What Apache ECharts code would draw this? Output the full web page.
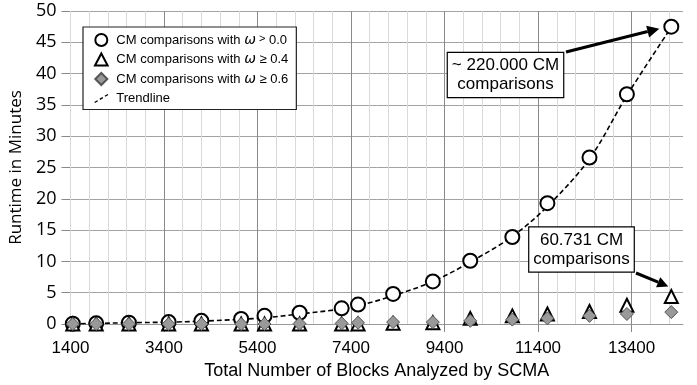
<!DOCTYPE html>
<html>
<head>
<meta charset="utf-8">
<script src="https://cdn.jsdelivr.net/npm/echarts@6/dist/echarts.min.js"></script>
<style>
html,body{margin:0;padding:0;background:#fff;}
#chart{width:697px;height:385px;}
</style>
</head>
<body>
<div id="chart"></div>
<script>
// ---- data ----
const blocks = [1450, 1950, 2650, 3500, 4200, 5050, 5550, 6300, 7200, 7550, 8300, 9150, 9950, 10850, 11600, 12500, 13300, 14250];
const runtimeW00 = [0.05, 0.1, 0.2, 0.3, 0.5, 0.8, 1.3, 1.8, 2.5, 3.1, 4.8, 6.8, 10.1, 13.9, 19.3, 26.6, 36.7, 47.5];
const runtimeW04 = [0, 0, 0, 0, 0, 0, 0, 0, 0, 0, 0.1, 0.2, 0.9, 1.3, 1.6, 2.0, 3.0, 4.4];
const runtimeW06 = [0, 0, 0, 0, 0, 0, 0, 0.05, 0.1, 0.2, 0.3, 0.3, 0.5, 0.7, 0.9, 1.3, 1.6, 1.9];
const trendline  = [0.0, 0.1, 0.2, 0.3, 0.45, 0.75, 1.0, 1.6, 2.4, 2.9, 4.5, 6.8, 9.9, 14.0, 18.8, 26.4, 36.5, 47.4];
const seriesNames = ['CM comparisons with ω > 0.0', 'CM comparisons with ω ≥ 0.4', 'CM comparisons with ω ≥ 0.6', 'Trendline'];
const note1 = '~ 220.000 CM\ncomparisons';
const note2 = '60.731 CM\ncomparisons';

const pairs = ys => blocks.map((x, i) => [x, ys[i]]);

const chart = echarts.init(document.getElementById('chart'), null, {renderer: 'canvas'});
const dashIcon = 'path://M0,12L3.2,10L4,11.2L0.8,13.2Z M5.6,8.6L8.8,6.6L9.6,7.8L6.4,9.8Z M11.2,5.2L14.4,3.2L15.2,4.4L12,6.4Z';
const option = {
  animation: false,
  backgroundColor: '#fff',
  grid: {left: 70, right: 14, top: 11, bottom: 60, containLabel: false},
  legend: {
    orient: 'vertical', left: 83, top: 27,
    padding: [6, 8, 4, 11], itemGap: 5.5, itemWidth: 14, itemHeight: 12,
    backgroundColor: '#fff', borderColor: '#222', borderWidth: 1.2, borderRadius: 0,
    data: [
      {name: seriesNames[0], icon: 'circle'},
      {name: seriesNames[1], icon: 'path://M0,-10L10,9L-10,9Z'},
      {name: seriesNames[2], icon: 'path://M0,-10L10,0L0,10L-10,0Z'},
      {name: seriesNames[3], icon: dashIcon}
    ],
    formatter: n => n.replace('ω > ', '{w|ω}{g| >} ').replace('ω ≥ ', '{w|ω} ≥ '),
    textStyle: {
      fontFamily: 'Liberation Sans', fontSize: 13, color: '#000', lineHeight: 14, padding: [0, 0, 0, 3],
      rich: {
        w: {fontFamily: 'DejaVu Sans', fontStyle: 'italic', fontSize: 14, lineHeight: 14, color: '#000'},
        g: {fontFamily: 'Liberation Sans', fontSize: 11, lineHeight: 14, color: '#000', verticalAlign: 'top'}
      }
    }
  },
  xAxis: [{
    type: 'value', min: 1400, max: 14500, interval: 2000, z: 2,
    name: 'Total Number of Blocks Analyzed by SCMA', nameLocation: 'middle', nameGap: 38,
    nameTextStyle: {fontFamily: 'Liberation Sans', fontSize: 18, color: '#000'},
    axisLabel: {fontFamily: 'Liberation Sans', fontSize: 17, color: '#000', margin: 16, showMaxLabel: false,
      formatter: v => String(v)},
    axisTick: {show: true, length: 8, lineStyle: {color: '#888'}},
    axisLine: {show: true, lineStyle: {color: '#999'}},
    splitLine: {show: true, showMinLine: false, showMaxLine: false, lineStyle: {color: '#8a8a8a', width: 1}}
  }, {
    type: 'value', min: 1400, max: 14500, interval: 400, position: 'bottom', z: 1,
    axisLabel: {show: false}, axisTick: {show: false}, axisLine: {show: false},
    splitLine: {show: true, showMaxLine: false, lineStyle: {color: '#d9d9d9', width: 1}}
  }],
  yAxis: {
    type: 'value', min: 0, max: 50, interval: 5,
    name: 'Runtime in Minutes', nameLocation: 'middle', nameGap: 29,
    nameTextStyle: {fontFamily: 'Open Sans', fontSize: 17, color: '#000'},
    axisLabel: {fontFamily: 'Open Sans', fontSize: 18, color: '#000', margin: 14},
    axisTick: {show: true, length: 9, lineStyle: {color: '#888'}},
    axisLine: {show: false},
    splitLine: {show: true, lineStyle: {color: '#a3a3a3', width: 1}}
  },
  series: [{
    name: seriesNames[3], type: 'line', data: pairs(trendline), smooth: 0.35,
    symbol: 'none', showSymbol: false, z: 2,
    lineStyle: {color: '#000', width: 1.6, type: [5, 3]}, itemStyle: {color: '#000'}
  }, {
    name: seriesNames[0], type: 'scatter', data: pairs(runtimeW00), symbol: 'circle', symbolSize: 14, z: 3,
    itemStyle: {color: '#fff', borderColor: '#000', borderWidth: 2, opacity: 1}
  }, {
    name: seriesNames[1], type: 'scatter', data: pairs(runtimeW04), symbol: 'triangle', symbolSize: 13, z: 4,
    itemStyle: {color: '#fff', borderColor: '#000', borderWidth: 2, opacity: 1}
  }, {
    name: seriesNames[2], type: 'scatter', data: pairs(runtimeW06), symbol: 'diamond', symbolSize: 13, z: 5,
    itemStyle: {color: '#999', borderColor: '#555', borderWidth: 1, opacity: 1}
  }]
};
chart.setOption(option);

function arrow(from, to, head, halfW) {
  const dx = to[0] - from[0], dy = to[1] - from[1];
  const L = Math.sqrt(dx * dx + dy * dy), ux = dx / L, uy = dy / L;
  const bx = to[0] - ux * head, by = to[1] - uy * head;
  return [{
    type: 'line', z: 100, shape: {x1: from[0], y1: from[1], x2: bx, y2: by},
    style: {stroke: '#000', lineWidth: 3}
  }, {
    type: 'polygon', z: 100,
    shape: {points: [to, [bx - uy * halfW, by + ux * halfW], [bx + uy * halfW, by - ux * halfW]]},
    style: {fill: '#000'}
  }];
}
const last = blocks.length - 1;
const p1 = chart.convertToPixel({xAxisIndex: 0, yAxisIndex: 0}, [blocks[last], runtimeW00[last]]);
const p2 = chart.convertToPixel({xAxisIndex: 0, yAxisIndex: 0}, [blocks[last], runtimeW04[last]]);
const noteStyle = {
  fontFamily: 'Liberation Sans', fontSize: 17, fill: '#000', lineHeight: 19, align: 'center', verticalAlign: 'middle',
  backgroundColor: '#fff', borderColor: '#000', borderWidth: 1.2, padding: [3, 4, 3, 4]
};
chart.setOption({
  graphic: [
    {type: 'text', z: 101, x: 505.5, y: 75, style: Object.assign({text: note1}, noteStyle)},
    {type: 'text', z: 101, x: 581.5, y: 249.5, style: Object.assign({text: note2}, noteStyle)},
    ...arrow([566, 52], [p1[0] - 12, p1[1] + 2], 12, 6),
    ...arrow([636, 273], [p2[0] - 3, p2[1] - 10], 11, 5.5)
  ]
});
</script>
</body>
</html>
